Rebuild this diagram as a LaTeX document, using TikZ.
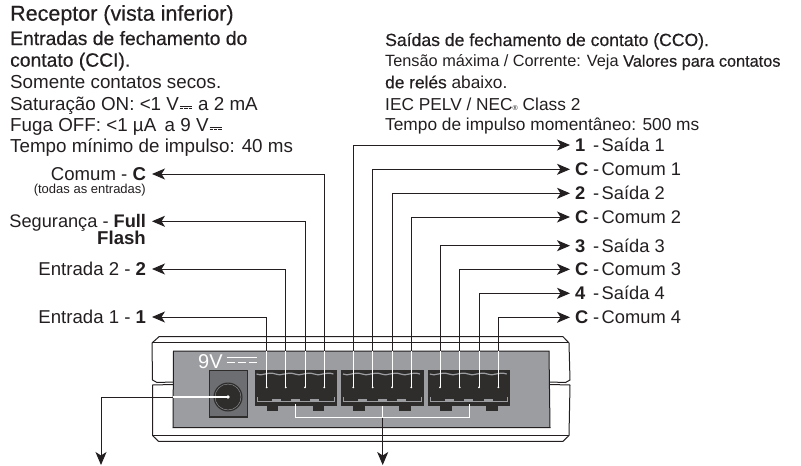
\documentclass[tikz,border=0pt]{standalone}
\usepackage{fontspec}
\setmainfont{Liberation Sans}
\newfontfamily\medfont[FakeBold=0.4]{Liberation Sans}
\usetikzlibrary{arrows.meta,calc}
\definecolor{inkdark}{HTML}{231F20}
\definecolor{panelgrey}{HTML}{9C9DA1}
\definecolor{blockdark}{HTML}{2E2D2C}
\definecolor{jackgrey}{HTML}{6D6E71}
\tikzset{
  wire/.style={draw=inkdark,line width=0.9pt,-{Stealth[length=13pt,width=11pt,inset=3.5pt]}},
  whitewire/.style={draw=white,line width=1pt},
  body/.style={draw=inkdark,line width=1pt,line join=round},
  inlabel/.style={anchor=east,inner sep=0pt,outer xsep=6pt,text height=13pt,text depth=0pt,text=inkdark,font=\fontsize{18.6}{18.6}\selectfont},
  outlabel/.style={anchor=west,inner sep=0pt,outer xsep=5pt,text height=13pt,text depth=0pt,text=inkdark,font=\fontsize{18.3}{18.3}\selectfont},
  textline/.style={anchor=base west,inner sep=0pt,text=inkdark},
}
\newcommand{\dcmark}{\kern1pt\raisebox{3.5pt}{\rlap{\rule{12pt}{0.7pt}}\raisebox{-2.6pt}{\rule{3.4pt}{0.7pt}\kern0.9pt\rule{3.4pt}{0.7pt}\kern0.9pt\rule{3.4pt}{0.7pt}}}\kern1pt}
\newcommand{\outtext}[2]{\makebox[18pt][l]{\textbf{#1}}\makebox[8.7pt][l]{-}#2}
\begin{document}
\begin{tikzpicture}[x=1pt,y=-1pt]
\useasboundingbox (0,0) rectangle (801,466);
%% housing
\draw[body] (173,382) -- (157,382.5) -- (152.5,380) -- (152,343) -- (159,336.7) -- (563,336.7) -- (569,343) -- (570,380) -- (565.5,382.5) -- (550,382);
\draw[body] (152,342.7) -- (569,342.7);
\draw[body] (173,384.5) -- (152.5,385) -- (152.5,435.5) -- (158.5,441.3) -- (563,441.3) -- (569,435.5) -- (570,385) -- (550,384.5);
\draw[body] (152.5,435.3) -- (569,435.3);
%% panel
\fill[panelgrey,draw=inkdark,line width=1pt] (173.5,351) -- (549,351) -- (550,427.5) -- (173,427.5) -- cycle;
%% power jack
\fill[jackgrey,draw=blockdark,line width=1.5pt] (209.5,370.5) rectangle (247.5,417);
\coordinate (jack) at (228,397);
\fill[blockdark] (jack) circle (14.5);
\draw[panelgrey,line width=0.4pt] (jack) circle (13);
\fill[white] (jack) circle (1.8);
\node[anchor=base west,inner sep=0pt,text=white,font=\fontsize{20}{20}\selectfont] (nineV) at (198,368) {9V};
\draw[white,line width=1.3pt] (226.5,357.5) -- (257,357.5);
\draw[white,line width=1.3pt,dash pattern=on 8.6pt off 2.4pt] (226.5,362.5) -- (257,362.5);
%% terminal blocks
\foreach \bx in {254.5,341,427.8}{
  \fill[blockdark] (\bx,370) rectangle ++(82.5,36);
  \foreach \fx in {12.2,58.2} \fill[blockdark] (\bx+\fx,406) rectangle ++(11.7,4.7);
  \draw[panelgrey,line width=1.2pt] (\bx+2,374) \foreach \wx in {0,19.3,38.6,57.9} {.. controls (\bx+\wx+7,377) and (\bx+\wx+13,371) .. (\bx+\wx+21,374)};
  \draw[panelgrey,line width=0.8pt] (\bx+2.5,397) -- (\bx+2.5,401.5) -- (\bx+80,401.5) -- (\bx+80,397);
  \foreach \tx in {21.7,41,60.2} \fill[panelgrey] (\bx+\tx-4.5,398.5) rectangle ++(9,3);
}
%% pins
\foreach \pname/\px in {inOne/266.7,inTwo/285.8,inFull/305,inCom/324.3,outOne/353.3,outComA/372.7,outTwo/392,outComB/411.3,outThree/440,outComC/459.7,outFour/479,outComD/498.3}{
  \coordinate (\pname) at (\px,387.3);
  \draw[whitewire] (\pname) -- (\px,351);
  \fill[white] (\pname) circle (1);
}
%% input labels
\node[inlabel] (lblCom) at (152,174) {Comum - \textbf{C}};
\node[anchor=base east,inner sep=0pt,text=inkdark,font=\fontsize{13}{13}\selectfont] (lblAll) at (146,193.3) {(todas as entradas)};
\node[inlabel,font=\fontsize{18.2}{18.2}\selectfont] (lblFull) at (152,221.3) {Segurança - \textbf{Full}};
\node[anchor=base east,inner sep=0pt,text=inkdark,font=\fontsize{18.6}{18.6}\selectfont\bfseries] (lblFlash) at (146,244.3) {Flash};
\node[inlabel] (lblTwo) at (152,269) {Entrada 2 - \textbf{2}};
\node[inlabel] (lblOne) at (152,317) {Entrada 1 - \textbf{1}};
%% output labels
\node[outlabel] (outA) at (570,145) {\outtext{1}{Saída 1}};
\node[outlabel] (outB) at (570,169.3) {\outtext{C}{Comum 1}};
\node[outlabel] (outC) at (570,193.3) {\outtext{2}{Saída 2}};
\node[outlabel] (outD) at (570,217) {\outtext{C}{Comum 2}};
\node[outlabel] (outE) at (570,245.7) {\outtext{3}{Saída 3}};
\node[outlabel] (outF) at (570,269.3) {\outtext{C}{Comum 3}};
\node[outlabel] (outG) at (570,293.3) {\outtext{4}{Saída 4}};
\node[outlabel] (outH) at (570,317.3) {\outtext{C}{Comum 4}};
%% wires
\coordinate (jackOut) at (173,397);
\coordinate (dropOne) at (101,465);
\coordinate (dropTwo) at (382.7,465);
\coordinate (brkLeft) at (295.7,404);
\coordinate (brkRight) at (469.3,404);
\draw[whitewire,line width=1.1pt] (jack) -- (jackOut);
\draw[wire] (jackOut) -| (dropOne);
\draw[whitewire,line width=1.1pt] (brkLeft) -- (295.7,417.7) -- (469.3,417.7) -- (brkRight);
\draw[whitewire,line width=1.1pt] (382.7,406) -- (382.7,417.7);
\draw[wire] (382.7,417.7) -- (dropTwo);
\foreach \from/\to in {inOne/lblOne,inTwo/lblTwo,inFull/lblFull,inCom/lblCom,outOne/outA,outComA/outB,outTwo/outC,outComB/outD,outThree/outE,outComC/outF,outFour/outG,outComD/outH}{
  \draw[wire,shorten <=36.3pt] (\from) |- (\to);
}
%% left text
\node[textline,font=\fontsize{21.5}{21.5}\selectfont\medfont] (title) at (10,20.7) {Receptor (vista inferior)};
\node[textline,font=\fontsize{19.3}{19.3}\selectfont\medfont] (inHeadA) at (10,45) {Entradas de fechamento do};
\node[textline,font=\fontsize{19.3}{19.3}\selectfont\medfont] (inHeadB) at (10,66.7) {contato (CCI).};
\node[textline,font=\fontsize{18.8}{18.8}\selectfont] (inSpecA) at (10,88.3) {Somente contatos secos.};
\node[textline,font=\fontsize{18.8}{18.8}\selectfont] (inSpecB) at (10,110) {Saturação ON: <1 V\dcmark{} a 2 mA};
\node[textline,font=\fontsize{18.8}{18.8}\selectfont] (inSpecC) at (10,131) {Fuga OFF: <1 µA\, a 9 V\dcmark};
\node[textline,font=\fontsize{18.8}{18.8}\selectfont] (inSpecD) at (10,152) {Tempo mínimo de impulso: 40 ms};
%% right text
\node[textline,font=\fontsize{17.6}{17.6}\selectfont\medfont] (outHead) at (385,46) {Saídas de fechamento de contato (CCO).};
\node[textline,font=\fontsize{16.3}{16.3}\selectfont] (outSpecA) at (385,66.7) {Tensão máxima / Corrente: Veja {\medfont Valores para contatos}};
\node[textline,font=\fontsize{17.3}{17.3}\selectfont] (outSpecB) at (385,88.3) {{\medfont de relés} abaixo.};
\node[textline,font=\fontsize{17.3}{17.3}\selectfont] (outSpecC) at (385,110) {IEC PELV / NEC{\fontsize{7}{7}\selectfont ®} Class 2};
\node[textline,font=\fontsize{17.3}{17.3}\selectfont] (outSpecD) at (385,130.7) {Tempo de impulso momentâneo: 500 ms};
\end{tikzpicture}
\end{document}
